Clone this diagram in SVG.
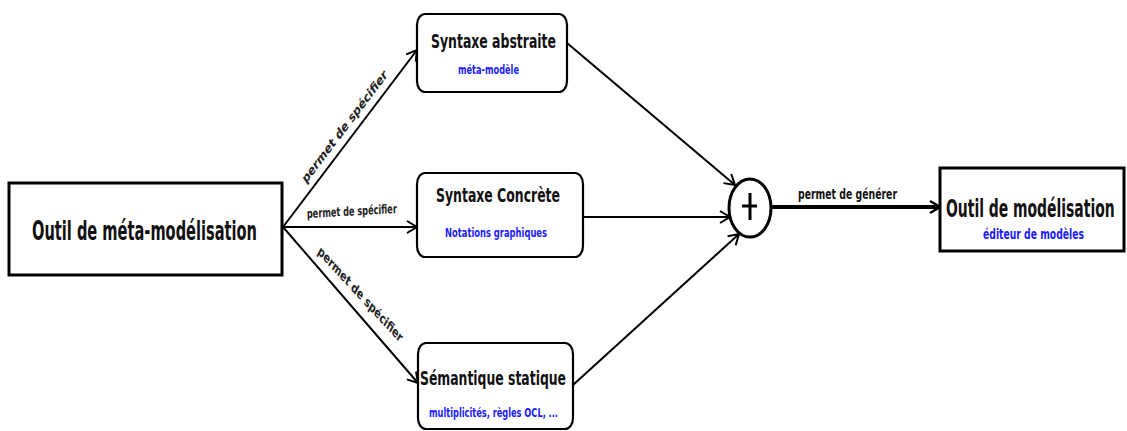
<svg xmlns="http://www.w3.org/2000/svg" width="1127" height="431" viewBox="0 0 1127 431">
<defs>
<style>
.box{fill:#fff;stroke:#000;stroke-width:3}
.rbox{fill:#fff;stroke:#000;stroke-width:2.2}
.t{font-family:"DejaVu Sans Condensed","DejaVu Sans",sans-serif;font-weight:bold;fill:#111}
.b{font-family:"DejaVu Sans Condensed","DejaVu Sans",sans-serif;font-weight:bold;fill:#1a1aff}
.l{font-family:"DejaVu Sans Condensed","DejaVu Sans",sans-serif;font-weight:bold;fill:#222}
.c{fill:none;stroke:#000;stroke-width:2}
</style>
<marker id="ah" markerUnits="userSpaceOnUse" markerWidth="16" markerHeight="16" refX="12" refY="7" orient="auto" viewBox="0 0 16 14">
<path d="M2,1 L12,7 L2,13" fill="none" stroke="#000" stroke-width="2"/>
</marker>
<marker id="ah2" markerUnits="userSpaceOnUse" markerWidth="16" markerHeight="16" refX="12" refY="7" orient="auto" viewBox="0 0 16 14">
<path d="M2,1 L12,7 L2,13" fill="none" stroke="#000" stroke-width="2.6"/>
</marker>
</defs>
<rect width="1127" height="431" fill="#fff"/>
<g id="connectors">
<line class="c" x1="283" y1="227" x2="417" y2="50" marker-end="url(#ah)"/>
<line class="c" x1="283" y1="227" x2="417" y2="227" marker-end="url(#ah)"/>
<line class="c" x1="283" y1="227" x2="418" y2="383" marker-end="url(#ah)"/>
<line class="c" x1="567" y1="43" x2="735" y2="185" marker-end="url(#ah)"/>
<line class="c" x1="583" y1="217" x2="730" y2="217" marker-end="url(#ah)"/>
<line class="c" x1="573" y1="385" x2="739" y2="234" marker-end="url(#ah)"/>
<line x1="771" y1="207" x2="940" y2="207" stroke="#000" stroke-width="4" marker-end="url(#ah2)"/>
<text class="l" font-size="13.5" textLength="157" lengthAdjust="spacingAndGlyphs" transform="translate(306,184) scale(0.72,1) rotate(-43.6)">permet de spécifier</text>
<text class="l" font-size="12.5" textLength="125" lengthAdjust="spacingAndGlyphs" transform="translate(307,218) scale(0.72,1) rotate(-2.3)">permet de spécifier</text>
<text class="l" font-size="13.5" textLength="146" lengthAdjust="spacingAndGlyphs" transform="translate(317,253) scale(0.72,1) rotate(38)">permet de spécifier</text>
<text class="t" font-size="14" x="798" y="199" textLength="99" lengthAdjust="spacingAndGlyphs">permet de générer</text>
</g>
<g id="meta">
<rect class="box" x="9" y="183" width="273" height="92"/>
<text class="t" font-size="27" x="32" y="240" textLength="225" lengthAdjust="spacingAndGlyphs">Outil de méta-modélisation</text>
</g>
<g id="abstraite">
<rect class="rbox" x="417" y="14" width="150" height="78" rx="8" ry="11"/>
<text class="t" font-size="20" x="431" y="48" textLength="125" lengthAdjust="spacingAndGlyphs">Syntaxe abstraite</text>
<text class="b" font-size="13" x="458" y="74" textLength="61" lengthAdjust="spacingAndGlyphs">méta-modèle</text>
</g>
<g id="concrete">
<rect class="rbox" x="417" y="173" width="166" height="84" rx="8" ry="11"/>
<text class="t" font-size="20" x="436" y="202" textLength="124" lengthAdjust="spacingAndGlyphs">Syntaxe Concrète</text>
<text class="b" font-size="13" x="445" y="237" textLength="102" lengthAdjust="spacingAndGlyphs">Notations graphiques</text>
</g>
<g id="semantique">
<rect class="rbox" x="418" y="343" width="155" height="86" rx="8" ry="11"/>
<text class="t" font-size="20" x="420" y="385" textLength="146" lengthAdjust="spacingAndGlyphs">Sémantique statique</text>
<text class="b" font-size="13" x="429" y="417" textLength="129" lengthAdjust="spacingAndGlyphs">multiplicités, règles OCL, ...</text>
</g>
<g id="plus">
<ellipse cx="750" cy="208" rx="21" ry="29" fill="#fff" stroke="#000" stroke-width="3"/>
<line x1="750" y1="193" x2="750" y2="220" stroke="#000" stroke-width="3"/>
<line x1="742" y1="206" x2="757" y2="206" stroke="#000" stroke-width="3"/>
</g>
<g id="outil">
<rect class="box" x="940" y="168" width="184" height="83"/>
<text class="t" font-size="24" transform="translate(946,217) scale(0.645,1)">Outil de modélisation</text>
<text class="b" font-size="14" x="983" y="239" textLength="101" lengthAdjust="spacingAndGlyphs">éditeur de modèles</text>
</g>
</svg>
